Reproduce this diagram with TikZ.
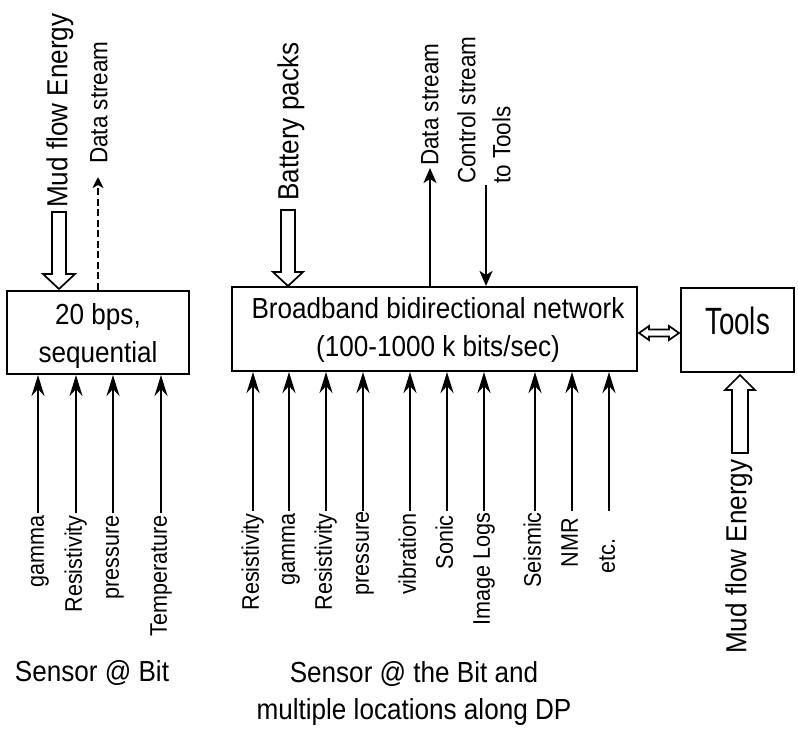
\documentclass[tikz,border=0pt]{standalone}
\usepackage{fontspec}
\setmainfont{Liberation Sans}[FakeStretch=0.9]
\newfontfamily\toolsfont{Liberation Sans}[FakeStretch=0.73]
\usetikzlibrary{arrows.meta,calc}
\begin{document}
\begin{tikzpicture}[x=1pt,y=-1pt,
  box/.style={draw, line width=2.1pt, inner sep=0pt},
  big/.style={font=\fontsize{29}{37.5}\selectfont},
  midf/.style={font=\fontsize{25}{35}\selectfont},
  sml/.style={font=\fontsize{24}{30}\selectfont},
  vbig/.style={big, rotate=90, inner sep=0pt, text height=21pt, text depth=6.5pt},
  vmid/.style={midf, rotate=90, inner sep=0pt, text height=18pt, text depth=5.5pt},
  vsml/.style={sml, rotate=90, inner sep=0pt, text height=17pt, text depth=5.5pt},
  sens/.style={line width=2.2pt, -{Stealth[length=21pt,width=13pt,inset=7pt]}},
  toparrow/.style={line width=2.2pt, -{Stealth[length=15pt,width=13pt,inset=4pt]}},
  dasharrow/.style={line width=2.2pt, dash pattern=on 7pt off 3.5pt, -{Stealth[length=11pt,width=11pt,inset=3pt]}},
  hollow/.style={draw, line width=1.7pt, fill=white, line join=miter},
]
\useasboundingbox (0,0) rectangle (798,729);

% boxes
\node[box, minimum width=182pt, minimum height=83pt,
  label={[big, align=center, yshift=-3.5pt]center:{20 bps,\\sequential}}] (lbox) at (98,332.5) {};
\node[box, minimum width=405pt, minimum height=84pt,
  label={[big, align=center, xshift=3.5pt, yshift=-1pt]center:{Broadband bidirectional network\\(100-1000 k bits/sec)}}] (mbox) at (434.5,329) {};
\node[box, font=\toolsfont\fontsize{38}{40}\selectfont, minimum width=113pt, minimum height=84pt,
  text depth=17.7pt] (tools) at (737.5,330) {Tools};

% hollow arrows
\draw[hollow] (52,212) -- (66,212) -- (66,274) -- (75,274) -- (59,289) -- (43,274) -- (52,274) -- cycle;
\draw[hollow] (281,210) -- (295,210) -- (295,272) -- (303,272) -- (288,286) -- (273,272) -- (281,272) -- cycle;
\draw[hollow] (740,375) -- (755,390) -- (748,390) -- (748,453) -- (732,453) -- (732,390) -- (725,390) -- cycle;
\draw[hollow] (639,333) -- (649,326) -- (649,329.5) -- (669,329.5) -- (669,326) -- (679,333)
  -- (669,340) -- (669,336.5) -- (649,336.5) -- (649,340) -- cycle;

% top labels
\node[vbig, anchor=west] (mfl) at (60,208) {Mud flow Energy};
\node[vmid, anchor=west] (dsl) at (101,164) {Data stream};
\node[vbig, anchor=west] (bat) at (291,201) {Battery packs};
\node[vmid, anchor=west] (dsm) at (432,166) {Data stream};
\node[midf, rotate=90, align=left, inner sep=0pt, anchor=north west] (csm) at (457,184)
  {Control stream\\to Tools};
\node[vbig, anchor=west] (mfr) at (739,654) {Mud flow Energy};

% top connectors
\coordinate (dslt) at (98,177);
\draw[dasharrow] (dslt |- lbox.north) -- (dslt);
\coordinate (dsmt) at (430,168);
\draw[toparrow] (dsmt |- mbox.north) -- (dsmt);
\coordinate (csmt) at (486,185);
\draw[toparrow] (csmt) -- (csmt |- mbox.north);

% left sensors
\foreach \x/\t/\n in {38/gamma/a, 76/Resistivity/b, 113/pressure/c, 161/Temperature/d} {
  \coordinate (ls\n) at (\x,513);
  \node[vsml, anchor=east] (lt\n) at (\x,515) {\t};
  \draw[sens] (ls\n) -- (ls\n |- lbox.south);
}

% middle sensors
\foreach \x/\t/\y/\n in {253/Resistivity/513/a, 289/gamma/513/b, 326/Resistivity/513/c,
    363/pressure/511/d, 410/vibration/513/e, 447/Sonic/515/f, 484/Image Logs/512/g,
    535/Seismic/512/h, 572/NMR/518/i, 609/etc./538/j} {
  \coordinate (ms\n) at (\x,511);
  \node[vsml, anchor=east] (mt\n) at (\x,\y) {\t};
  \draw[sens] (ms\n) -- (ms\n |- mbox.south);
}

% bottom labels
\node[big, anchor=base, inner sep=0pt] (sbit) at (92,681) {Sensor @ Bit};
\node[big, align=center, anchor=north, inner sep=0pt] (sdp) at (414,661)
  {Sensor @ the Bit and\\multiple locations along DP};
\end{tikzpicture}
\end{document}
